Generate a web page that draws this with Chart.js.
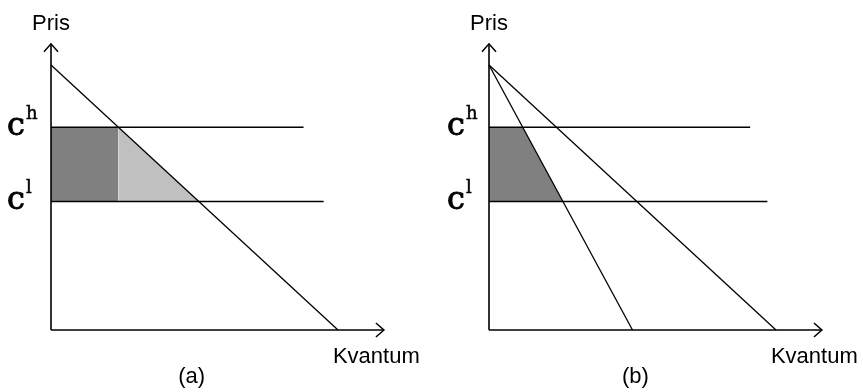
<!DOCTYPE html>
<html>
<head>
<meta charset="utf-8">
<script src="https://cdn.jsdelivr.net/npm/chart.js@4.4.1/dist/chart.umd.min.js"></script>
<style>
  html, body { margin: 0; padding: 0; background: #fff; }
  #wrap { position: relative; width: 863px; height: 392px; overflow: hidden; }
  #wrap canvas { position: absolute; top: 0; }
</style>
</head>
<body>
<div id="wrap">
  <canvas id="panelA" width="430" height="392" style="left:0"></canvas>
  <canvas id="panelB" width="433" height="392" style="left:430px"></canvas>
</div>
<script>
// price where demand hits the vertical axis
const chokePrice = 10;
// cost levels c^h and c^l
const costNames = ['h', 'l'];
const costLevels = [7.65, 4.85];
// quantity where each demand curve meets the horizontal axis
const demandQtyA = [10];
const demandQtyB = [5, 10];
// how far the cost lines run to the right
const costLineEndA = [8.8, 9.5];
const costLineEndB = [9.1, 9.7];
// extent of the drawn axes
const axisEnd = { q: 11.6, p: 10.8 };
const axisTitles = ['Pris', 'Kvantum'];
const captions = ['(a)', '(b)'];

const DARK = '#808080';
const LIGHT = '#c0c0c0';

function qtyAt(qMax, p) {
  return qMax * (1 - p / chokePrice);
}

function segment(points, width) {
  return {
    data: points.map(([x, y]) => ({ x, y })),
    showLine: true,
    borderColor: '#000',
    borderWidth: width,
    pointRadius: 0,
    fill: false,
    clip: false
  };
}

function shade(points, color) {
  return {
    data: points.map(([x, y]) => ({ x, y })),
    showLine: true,
    borderWidth: 0,
    borderColor: 'rgba(0,0,0,0)',
    backgroundColor: color,
    pointRadius: 0,
    fill: { value: costLevels[1] },
    clip: false
  };
}

// slightly heavier than regular weight
function heavyText(ctx, text, x, y, weight) {
  ctx.fillText(text, x, y);
  ctx.lineWidth = weight;
  ctx.strokeText(text, x, y);
}

// arrowheads, axis titles, cost labels and caption
const labelsPlugin = {
  id: 'labels',
  afterDraw(chart, args, opts) {
    const { ctx, scales: { x, y } } = chart;
    const x0 = x.getPixelForValue(0);
    const y0 = y.getPixelForValue(0);
    const xTip = x.getPixelForValue(axisEnd.q);
    const yTip = y.getPixelForValue(axisEnd.p);

    ctx.save();
    ctx.strokeStyle = '#000';
    ctx.lineWidth = 1.5;
    ctx.beginPath();
    ctx.moveTo(x0 - 7, yTip + 8); ctx.lineTo(x0, yTip); ctx.lineTo(x0 + 7, yTip + 8);
    ctx.moveTo(xTip - 8, y0 - 7); ctx.lineTo(xTip, y0); ctx.lineTo(xTip - 8, y0 + 7);
    ctx.stroke();

    ctx.fillStyle = '#000';
    ctx.font = '22px "Liberation Sans", Arial, sans-serif';
    ctx.textBaseline = 'alphabetic';
    ctx.textAlign = 'center';
    ctx.fillText(axisTitles[0], x0, yTip - 14);
    ctx.textAlign = 'left';
    ctx.fillText(axisTitles[1], xTip - 51, y0 + 33);
    ctx.textAlign = 'center';
    ctx.fillText(opts.caption, x.getPixelForValue(opts.captionAt), y0 + 53);

    costLevels.forEach((c, i) => {
      const yc = y.getPixelForValue(c);
      const right = x0 - opts.labelGap;
      ctx.textAlign = 'right';
      ctx.font = '32px "DejaVu Serif", serif';
      heavyText(ctx, 'c', right, yc + 8, 0.9);
      ctx.textAlign = 'left';
      ctx.font = '18px "DejaVu Serif", serif';
      heavyText(ctx, costNames[i], right + 1, yc - 8, 0.5);
    });
    ctx.restore();
  }
};

function makePanel(id, datasets, pad, caption, captionAt, labelGap) {
  return new Chart(document.getElementById(id), {
    type: 'scatter',
    data: { datasets },
    options: {
      responsive: false,
      animation: false,
      layout: { padding: pad },
      scales: {
        x: { type: 'linear', min: 0, max: 12, display: false },
        y: { type: 'linear', min: 0, max: 11, display: false }
      },
      plugins: {
        legend: { display: false },
        tooltip: { enabled: false },
        filler: { drawTime: 'beforeDatasetsDraw' },
        labels: { caption, captionAt, labelGap }
      }
    },
    plugins: [labelsPlugin]
  });
}

const [ch, cl] = costLevels;
const axes = [
  segment([[0, 0], [axisEnd.q, 0]], 1.6),
  segment([[0, 0], [0, axisEnd.p]], 1.6)
];

// panel (a): one demand curve, rectangle plus triangle
const qa = demandQtyA[0];
const datasetsA = [
  shade([[0, ch], [qtyAt(qa, ch), ch]], DARK),
  shade([[qtyAt(qa, ch), ch], [qtyAt(qa, cl), cl]], LIGHT),
  ...axes,
  segment([[0, ch], [costLineEndA[0], ch]], 1.5),
  segment([[0, cl], [costLineEndA[1], cl]], 1.5),
  segment([[0, chokePrice], [qa, 0]], 1.3)
];

// panel (b): steep and flat demand from the same choke price
const datasetsB = [
  shade([[0, ch], [qtyAt(demandQtyB[0], ch), ch], [qtyAt(demandQtyB[0], cl), cl]], DARK),
  ...axes,
  segment([[0, ch], [costLineEndB[0], ch]], 1.5),
  segment([[0, cl], [costLineEndB[1], cl]], 1.5),
  ...demandQtyB.map(q => segment([[0, chokePrice], [q, 0]], 1.3))
];

makePanel('panelA', datasetsA, { left: 51, top: 38.5, right: 34.6, bottom: 62 }, captions[0], 4.9, 26);
makePanel('panelB', datasetsB, { left: 59, top: 38.5, right: 29.6, bottom: 62 }, captions[1], 5.1, 24);
</script>
</body>
</html>
